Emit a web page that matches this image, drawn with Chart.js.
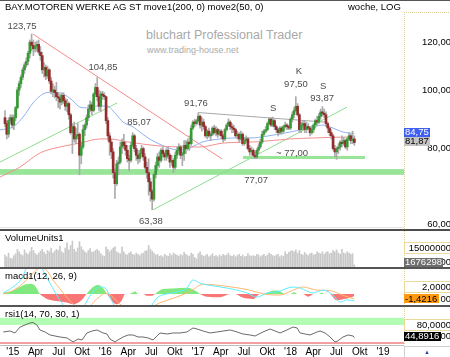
<!DOCTYPE html>
<html>
<head>
<meta charset="utf-8">
<title>BMW weekly</title>
<script src="https://cdn.jsdelivr.net/npm/chart.js@4.4.1/dist/chart.umd.min.js"></script>
<style>
html,body{margin:0;padding:0;background:#fff;}
body{width:450px;height:357px;overflow:hidden;position:relative;font-family:"Liberation Sans",Arial,sans-serif;}
canvas{position:absolute;left:0;}
.t{position:absolute;white-space:nowrap;line-height:11px;color:#000;}
.ln{position:absolute;}
</style>
</head>
<body>
<div class="t" style="left:146px;top:30px;font-size:12.5px;color:#a9a9a9;">bluchart Professional Trader</div>
<div class="t" style="left:147px;top:45px;font-size:9px;color:#ababab;">www.trading-house.net</div>
<canvas id="cMain" width="450" height="229" style="top:0"></canvas>
<canvas id="cVol" width="450" height="36" style="top:231px"></canvas>
<canvas id="cMacd" width="450" height="36" style="top:269px"></canvas>
<canvas id="cRsi" width="450" height="50" style="top:307px"></canvas>
<div class="ln" style="left:0;top:0;width:450px;height:1px;background:#555;"></div>
<div class="ln" style="left:0;top:227px;width:404px;height:1px;background:#e2e2e2;"></div>
<div class="ln" style="left:0;top:229px;width:450px;height:2px;background:#4d4d4d;"></div>
<div class="ln" style="left:0;top:267px;width:450px;height:2px;background:#555;"></div>
<div class="ln" style="left:0;top:305px;width:450px;height:2px;background:#555;"></div>
<div class="ln" style="left:0;top:345px;width:404px;height:1px;background:#bdbdbd;"></div>
<div class="ln" style="left:404px;top:346px;width:45px;height:10px;border-left:1px solid #cfcfcf;border-top:1px solid #cfcfcf;"></div>
<div class="t" style="left:424px;top:347px;font-size:6px;color:#2a4da0;">▲</div>
<div class="t" style="left:5px;top:1px;font-size:9.5px;">BAY.MOTOREN WERKE AG ST move1(200, 0) move2(50, 0)</div>
<div class="t" style="left:348px;top:1px;font-size:9.5px;">woche, LOG</div>
<div class="t" style="left:5px;top:232px;font-size:9.5px;">VolumeUnits1</div>
<div class="t" style="left:5px;top:270px;font-size:9.5px;">macd1(12, 26, 9)</div>
<div class="t" style="left:5px;top:308px;font-size:9.5px;">rsi1(14, 70, 30, 1)</div>
<script>
// ---------- DATA (weekly, week 0 = 1 Dec 2014) ----------
const opens = [
90,88,84.5,89,90,87.5,90,93.5,100,102.5,
105,108,110,111.5,115,120,118.5,117,118,119,
115.5,114,108,109,105.5,108,103.5,99.5,100,99,
97.5,97,95.5,98,96,94,95,91,85,87,
83,84,84.5,78,80.5,86,87.5,90,93,94.5,
92.5,98.5,101,97.5,94,98.5,98,97.5,89,84,
82,79,73,70,75.5,76,80.5,82,81,79.5,
77,76.5,81,84,80,78,77,78.5,80,77.5,
74.5,73,70.5,68,66,72.5,75,77.5,76.5,79.5,
78.5,77.5,79.5,78,76,76.5,74.5,78,79.5,80.5,
78,78.5,81,80,82,81.5,86.5,88.5,88,89,
90.5,87.5,88.5,87,84,85.5,84,84.5,86.5,85,
86,84.5,85.5,84,83,86,87.5,88.5,87,86.5,
86,84,84.5,83,84.5,81.5,82.5,83,80,79,
79.5,78,77.5,79.5,80.5,82,84.5,85.5,86,88,
89.5,87.5,89,87,86,85,86.5,85.5,87,87.5,
87,86.5,89.5,91,92.5,94,91,86,87.5,88,
86,87,86.5,85,86,87.5,89,88.5,90.5,92,
91.5,91,88,86.5,85,84,80,79,80,80.5,
82,81.5,82.5,80.5,83,84,82.5,83];
const highs = [
92.5,89,90,91,91,91,94,101,103.5,106,
109,111,113,116,121,123.75,121,120,120.5,121,
118,115.5,111,110,109.5,108.5,105,102.5,101.5,103,
99,98.5,99,99,97,96.5,95.5,91.5,88,88.5,
86.5,88,85,82,87.5,88,91,94.5,96,95.5,
99,102.5,104.85,100,99.5,99.5,99,97.5,90,85,
83,80,74,76.5,77.5,82,83,84.5,82,81,
78,82,85,84.5,81,79.5,79.5,81,80.5,78.5,
76,77,71.5,68.5,73,76,78.5,79,80,80.5,
79,80,80.5,78.5,78,77,79,80.5,81.5,81,
79,82.5,82.5,83,84,87.5,89,89.5,89.5,91.76,
91,90,89.5,87.5,86,86.5,85,87,87.5,87,
86.5,86,86,84.5,86.5,88,89.6,89,88,87.5,
86.5,85.5,85,85.5,85,83.5,84,83.5,81,80.5,
80,79,80,81.5,83,85.5,86,87,88.5,90,
90,90.2,89.5,87.5,86.5,87,87,87.5,88.5,88,
87.5,90,92,93.5,97.5,95,91.5,88.5,89,89,
88.5,88,87,87,88,89.5,90.5,91.5,93,93.87,
93,92,88.5,87,86,84.5,81,80.5,81.5,82.5,
84,83.5,83,83.5,85,84.5,85.5,84];
const lows = [
87,83,83.5,88,86.5,86,89,93,98,101,
104,106.5,109,110,113,116,114,115.5,116,114.5,
112,106.5,105,104,104.5,102.5,98.5,97.5,97,96,
93.5,93,94.5,95,92.5,92,89.5,84.5,78.5,82,
81.5,83,72.4,75.5,80,84,86.5,89,92,91,
92,97.5,96,92.5,92,96.5,96.5,88,82.5,78,
77,71.5,66.2,69.5,72.5,75.5,78.5,80,78,76,
73.5,76,80.5,79,76.5,75.5,76,77.5,76.5,74,
71.5,67,65.5,63.38,65.5,71.5,73.5,74.5,76,77.5,
76.5,76.5,77,74.5,75,73,74,77,78.5,77,
75,76.5,78.5,79.5,79.5,81,86,87,87.5,88.5,
86.5,85.5,86,83.5,83,83.5,82.5,84,84.5,84,
83.5,84,83,82,82.5,85.5,87,86,85,85,
83.5,83,82,82.5,81,81,82,79.5,78,78,
77.5,77,77,78.5,80,81.5,84,85,85.5,87.5,
87,87,86,85,84,84.5,84.5,85,86.5,86,
86,86,88.5,90,92,90.5,85,85,86.5,85,
85,86,84,84.5,85,86.5,87.5,88,89.5,90.5,
90,87,85,84,83,79.5,77.5,76.8,78.5,79.5,
80.5,81,80,79.5,82.5,81.5,81.5,81];
const closes = [
88,84.5,89,90,87.5,90,93.5,100,102.5,105,
108,110,111.5,115,120,118.5,117,118,119,115.5,
114,108,109,105.5,108,103.5,99.5,100,99,97.5,
97,95.5,98,96,94,95,91,85,87,83,
84,84.5,78,80.5,86,87.5,90,93,94.5,92.5,
98.5,101,97.5,94,98.5,98,97.5,89,84,82,
79,73,70,75.5,76,80.5,82,81,79.5,77,
76.5,81,84,80,78,77,78.5,80,77.5,74.5,
73,70.5,68,66,72.5,75,77.5,76.5,79.5,78.5,
77.5,79.5,78,76,76.5,74.5,78,79.5,80.5,78,
78.5,81,80,82,81.5,86.5,88.5,88,89,90.5,
87.5,88.5,87,84,85.5,84,84.5,86.5,85,86,
84.5,85.5,84,83,86,87.5,88.5,87,86.5,86,
84,84.5,83,84.5,81.5,82.5,83,80,79,79.5,
78,77.5,79.5,80.5,82,84.5,85.5,86,88,89.5,
87.5,89,87,86,85,86.5,85.5,87,87.5,87,
86.5,89.5,91,92.5,94,91,86,87.5,88,86,
87,86.5,85,86,87.5,89,88.5,90.5,92,91.5,
91,88,86.5,85,84,80,79,80,80.5,82,
81.5,82.5,80.5,83,84,82.5,83,81.87];
// weekly volume in millions of shares
const volumes = [
9.5,8,11,7,6.5,9,10.5,14,12,10,
9,13.5,11,10,12,15.5,13,10.5,9.5,11,
12.5,14,11.5,10,13,12,15,11,12.5,14,
13,16.5,12,11,15,19,13.5,17,20.5,14,
12,15,20,16,13.5,12,11,13,14.5,11.5,
12,13,14,12.5,10.5,9,8.5,16,14,12,
13.5,15,16,12,11,10.5,16,12,10,9.5,
11,12,10,9.5,11,10,9,10.5,11,12.5,
13,17,14,12.5,11,9.5,10,8.5,9,8,
10,9,8.5,10.5,9,11,10,9.5,8.5,10,
9,11.5,10,9,8.5,11,10,7.5,6.5,10.5,
12,9.5,8.5,9,10,8,9,10.5,8.5,9,
8,9.5,8.5,10,9,9.5,11,9,8.5,9.5,
8,9,10,8.5,9.5,8,8.5,10.5,9,8.5,
9,8.5,10,9.5,8,9,10,8.5,9.5,11,
10,9,8.5,9.5,10,8,9,8.5,12,10,
11.5,12.5,13,12,13.5,11,13,10,9.5,11.5,
10,9,10.5,11,9.5,10,12,11,10.5,12,
10,11.5,12,10.5,11,13,12,13.5,11,10,
14,11,10.5,12,11,10,10.5,1.676298];

// moving averages (week, price)
const ma50Weeks  = [-2.8,4.5,10.2,15.8,21.4,27.1,32.7,37.8,42.3,46.8,51.9,57.5,62,66.6,72.2,76.1,81.8,87.4,94.8,100,104.3,111.7,121.3,128.6,138.2,147.8,155.1,160.7,166.4,173.7,179.4,185,190.6,197];
const ma50Values = [85.9,86.9,90.2,95.2,98.5,99.2,98.5,96.3,93.7,93.4,94.1,94.1,91.6,88.5,86.9,85.2,82.9,81.3,79.8,79.6,80.3,82.1,83.0,83.3,83.3,83.9,84.6,85.2,85.9,86.9,87.5,86.5,85.2,84.75];
const ma200Weeks  = [-2.8,8.5,19.8,31,42.3,53.6,59.2,68.8,77.8,87.4,98.7,109.9,122.9,142.1,160.7,173.7,192.9,197];
const ma200Values = [71.8,74.6,78.7,80.5,81.7,83.0,83.0,82.1,81.4,80.8,80.5,80.5,81.7,82.1,83.0,83.3,83.6,83.6];

// trend lines (week, price)
const resistWeeks = [15.8,122.4],  resistPrices = [123.75,76.9];
const support1Weeks = [-2.8,63.2], support1Prices = [76.0,95.2];
const support2Weeks = [83.5,192.9], support2Prices = [63.38,93.7];
const topLineWeeks = [109.4,180.5], topLinePrices = [91.76,88.5];
const supportZone = [72.4,74.0];
const zone77 = [76.9,77.8], zone77Weeks = [134.2,203];

// chart annotations
const noteTexts  = ['123,75','104,85','85,07','63,38','91,76','S','K','97,50','S','93,87','~ 77,00','77,07'];
const noteWeeks  = [9.6,55.3,75.6,82.3,107.7,151.2,165.8,164.1,179.4,178.8,161.9,141.6];
const notePrices = [127.6,109.2,88.4,60.7,95.2,93.4,107.5,102.3,101.5,97.0,78.7,71.0];

// MACD (week, value)
const histWeeks  = [-1,0,4.5,10,14,17,19.7,21,23.6,29,34.8,38.5,43.3,45.9,49.8,52.6,55.4,57.6,61,63,66,67.7,70,73.5,75,78,80,83,84.6,89,94.8,102.6,108,110,114,121,127,129.7,134,140,143.8,145.5,150.6,154,158,161,163,165,168,171,174,177,178.5,180,183,187,190.6,195.7,197];
const histValues = [0.4,0.5,0.95,2.4,2.9,2.3,0,-0.6,-1.4,-2.0,-2.4,-2.9,-1.7,0,2.1,2.6,1.6,0,-2.4,-2.9,-1.7,0,0,0.7,0,0,-0.5,-0.5,0,1.4,1.6,1.8,0.7,0,-0.8,-0.95,0,0,-1.0,-1.4,0,0,0.9,1.0,0,0,0.5,0,0,-0.8,0,0,0.4,0,0,-1.8,-1.5,-0.9,-0.6];
const macdWeeks  = [-1,4.5,9.6,13,16,19.7,23.7,29.9,35,39.5,42,45.1,49.6,53.6,56.4,60.9,64.9,68,73.3,81.8,85.7,91,97,102.6,106,110,113.9,125.2,136.5,142.1,147.8,153.4,162.4,166.4,173.7,179.4,185,189,192.9,197];
const macdValues = [0.3,2.0,4.6,8.5,10.0,8.3,4.6,-0.9,-4.6,-6.9,-7.2,-3.1,0.6,2.0,1.7,-2.6,-6.0,-6.5,-5.1,-3.8,-1.1,0.0,0.6,1.7,4.0,3.1,2.6,1.7,0.3,-0.9,0.3,0.6,2.0,1.7,0.3,1.1,-0.3,-2.3,-1.7,-1.9];
const signalWeeks  = [-1,4.5,10,15,20,24,27,31,35,40,45,50,53,57,60,64,70,80,87,95,104,112,118,128,138,146,155,162,168,176,183,190,197];
const signalValues = [0.0,1.0,3.0,5.5,7.5,6.5,4.0,1.5,-1.0,-3.5,-4.8,-2.3,-0.9,0.3,-0.5,-2.5,-4.5,-4.3,-2.6,-1.2,0.6,2.8,2.6,2.0,1.1,0.0,-0.3,1.0,2.0,1.1,1.0,-0.3,-1.4216];

// RSI (week, value)
const rsiWeeks  = [-1,2.8,5.6,8.5,11.3,14.1,15.8,18,19.7,22.6,25.4,28.2,31,35,38.4,41.2,43.4,46.2,49.1,51.9,55.3,57.5,59.2,62,63.7,66.6,69.4,72.2,75,77.8,80.7,83.5,85.7,87.4,91.4,94.8,98.7,102.6,106,108.3,111.7,115.6,119.6,123,127,130.9,134.2,138.2,141,145.5,149.5,152.3,155.1,159,162.4,164.7,166.4,169.2,172,176,177.7,180.5,183.3,186.1,187.6,190.6,193.5,196.3,197];
const rsiValues = [60.6,63.3,57.8,74.4,80,85.6,87,80,66,60.6,52.2,49.4,46.7,43.9,32.8,41.1,38.3,57.8,63.3,66.1,57.8,55,41.1,32.8,38.3,46.7,52.2,52.2,46.7,46.7,43.9,38.3,49.4,57.8,55,57.8,57.8,60.6,71.7,68.9,63.3,57.8,60.6,63.3,66.1,60.6,55,52.2,49.4,60.6,68.9,63.3,57.8,66.1,74.4,71.7,57.8,55,52.2,60.6,63.3,57.8,46.7,32.8,35.6,46.7,52.2,49.4,44.8916];
const rsiZone = [80,100], rsiFloor = 30;

// axis ticks
const tickWeeks  = [4.43,17.29,30.29,43.43,56.57,69.57,82.57,95.71,108.86,121.71,134.71,147.86,161,173.86,186.86,200,213.14];
const tickLabels = ["'15","Apr","Jul","Okt","'16","Apr","Jul","Okt","'17","Apr","Jul","Okt","'18","Apr","Jul","Okt","'19"];
const priceTicks = [60,80,100,120];
const volumeTicks = [15000000];
const macdTicks = [2];
const rsiTicks = [80];

// ---------- CHARTS ----------
const FONT = '"Liberation Sans", Arial, sans-serif';
const X_MIN = -2.82, X_MAX = 225;
const weeks = closes.map((_, i) => i);
const last = closes.length - 1;
const pts = (xs, ys) => xs.map((w, k) => ({ x: w, y: ys[k] }));
const fmtPrice = v => v.toFixed(2).replace('.', ',');
const fmt4 = v => v.toFixed(4).replace('.', ',');
const fmtVol = v => String(Math.round(v));

function xAxis(show) {
  return {
    type: 'linear', min: X_MIN, max: X_MAX, offset: false, display: show,
    grid: { display: false, drawTicks: false }, border: { display: false },
    ticks: { autoSkip: false, maxRotation: 0, minRotation: 0, padding: 1, color: '#000',
      font: { size: 10, family: FONT }, callback: (v, idx) => tickLabels[idx] },
    afterBuildTicks: s => { s.ticks = tickWeeks.map(v => ({ value: v })); },
    afterFit: s => { s.height = show ? 12 : 0; s.paddingLeft = 0; s.paddingRight = 0; }
  };
}
function yAxis(type, min, max, ticks) {
  return {
    type, min, max, position: 'right',
    grid: { display: false, drawTicks: false }, border: { display: false },
    ticks: { display: false },
    afterBuildTicks: s => { s.ticks = ticks.map(v => ({ value: v })); },
    afterFit: s => { s.width = 46; s.paddingTop = 0; s.paddingBottom = 0; }
  };
}
function baseOptions(y, showX, top) {
  return {
    responsive: false, animation: false, devicePixelRatio: 1, events: [],
    layout: { padding: { top: top || 0, left: 0, right: 0, bottom: 0 } },
    plugins: { legend: { display: false }, tooltip: { enabled: false } },
    scales: { x: xAxis(showX), y }
  };
}
function rightDecor(chart, fmt, boxed) {
  const { ctx, chartArea: a } = chart; const y = chart.scales.y;
  ctx.save();
  ctx.strokeStyle = '#dccf96'; ctx.lineWidth = 1; ctx.setLineDash([1, 1]);
  ctx.beginPath(); ctx.moveTo(a.right + 0.5, a.top); ctx.lineTo(a.right + 0.5, a.bottom);
  if (!boxed) { ctx.moveTo(a.right, a.top + 0.5); ctx.lineTo(450, a.top + 0.5); }
  ctx.stroke(); ctx.setLineDash([]);
  ctx.font = '9.5px ' + FONT; ctx.textBaseline = 'middle'; ctx.textAlign = 'right';
  y.ticks.forEach(t => {
    const py = y.getPixelForValue(t.value);
    if (boxed) { ctx.strokeStyle = '#eadb9c'; ctx.strokeRect(a.right + 0.5, Math.round(py) - 5.5, 46, 11); }
    ctx.fillStyle = '#000'; ctx.fillText(fmt(t.value), 451, py);
  });
  ctx.restore();
}
function valueBox(chart, value, bg, fg, text, fragment, dy) {
  const { ctx, chartArea: a } = chart; const y = chart.scales.y;
  let yc = y.getPixelForValue(value) + (dy || 0);
  yc = Math.min(Math.max(yc, a.top + 5), a.bottom - 5);
  ctx.save();
  ctx.font = '9.5px ' + FONT; ctx.textBaseline = 'middle';
  const w = Math.ceil(ctx.measureText(text).width) + 2;
  if (fragment) { ctx.fillStyle = '#000'; ctx.textAlign = 'right'; ctx.fillText(fragment, 451, yc); }
  ctx.fillStyle = bg; ctx.fillRect(a.right, Math.round(yc - 4.5), w, 9);
  ctx.fillStyle = fg; ctx.textAlign = 'left'; ctx.fillText(text, a.right + 1, yc);
  ctx.restore();
}

// main price chart
const mainPlugin = {
  id: 'mainDecor',
  beforeDatasetsDraw(chart) {
    const { ctx, chartArea: a, scales: { x, y } } = chart;
    ctx.save();
    ctx.fillStyle = '#98e498';
    const t = y.getPixelForValue(supportZone[1]), b = y.getPixelForValue(supportZone[0]);
    ctx.fillRect(a.left, t, a.right - a.left, b - t);
    const t2 = y.getPixelForValue(zone77[1]), b2 = y.getPixelForValue(zone77[0]);
    const l2 = x.getPixelForValue(zone77Weeks[0]), r2 = x.getPixelForValue(zone77Weeks[1]);
    ctx.fillRect(l2, t2, r2 - l2, b2 - t2);
    ctx.restore();
  },
  afterDatasetsDraw(chart) {
    const { ctx, scales: { x, y } } = chart;
    ctx.save();
    ctx.font = '9.5px ' + FONT; ctx.fillStyle = '#4d4d4d'; ctx.textAlign = 'center'; ctx.textBaseline = 'middle';
    noteTexts.forEach((t, k) => ctx.fillText(t, x.getPixelForValue(noteWeeks[k]), y.getPixelForValue(notePrices[k])));
    ctx.restore();
  },
  afterDraw(chart) {
    rightDecor(chart, fmtPrice, false);
    const m = ma50Values[ma50Values.length - 1];
    valueBox(chart, m, '#3f5ff2', '#fff', fmtPrice(m), null, -1);
    valueBox(chart, closes[last], '#c4c4c4', '#000', fmtPrice(closes[last]), null, -1);
  }
};
const lineDs = (data, color, order, width, tension) => ({
  type: 'line', data, borderColor: color, borderWidth: width || 1, pointRadius: 0,
  tension: tension || 0, cubicInterpolationMode: tension ? 'monotone' : 'default', fill: false, order
});
new Chart(document.getElementById('cMain'), {
  type: 'bar',
  data: { datasets: [
    lineDs(pts(resistWeeks, resistPrices), '#f58a8a', 9),
    lineDs(pts(support1Weeks, support1Prices), '#8edc8e', 9),
    lineDs(pts(support2Weeks, support2Prices), '#8edc8e', 9),
    lineDs(pts(topLineWeeks, topLinePrices), '#a8a8a8', 9),
    lineDs(pts(ma200Weeks, ma200Values), '#f39090', 8, 1, 0.4),
    lineDs(pts(ma50Weeks, ma50Values), '#8fb2f2', 8, 1, 0.4),
    { type: 'bar', data: weeks.map(i => ({ x: i, y: [lows[i], highs[i]] })), backgroundColor: '#ababab',
      barThickness: 1, grouped: false, order: 5 },
    { type: 'bar', data: weeks.map(i => ({ x: i, y: [opens[i], closes[i]] })),
      backgroundColor: weeks.map(i => closes[i] >= opens[i] ? '#379a37' : '#932d2d'),
      barThickness: 2, grouped: false, order: 4 }
  ] },
  options: baseOptions(yAxis('logarithmic', 58.9, 134.6, priceTicks), false, 12),
  plugins: [mainPlugin]
});

// volume
new Chart(document.getElementById('cVol'), {
  type: 'bar',
  data: { datasets: [{ data: weeks.map(i => ({ x: i, y: volumes[i] * 1e6 })), backgroundColor: '#c9c9c9', barThickness: 1, grouped: false }] },
  options: baseOptions(yAxis('linear', 0, 28.42e6, volumeTicks), false),
  plugins: [{ id: 'volDecor', afterDraw(chart) {
    rightDecor(chart, fmtVol, true);
    const v = volumes[last] * 1e6;
    valueBox(chart, v, '#6e6e6e', '#fff', fmtVol(v), '00');
  } }]
});

// MACD
new Chart(document.getElementById('cMacd'), {
  type: 'line',
  data: { datasets: [
    lineDs(pts(macdWeeks, macdValues), '#5eeeff', 1, 1, 0.3),
    lineDs(pts(signalWeeks, signalValues), '#ffb66e', 2, 1, 0.3),
    { type: 'line', data: pts(histWeeks, histValues), borderWidth: 0, pointRadius: 0, tension: 0.3,
      cubicInterpolationMode: 'monotone', fill: { target: 'origin', above: '#7fe97f', below: '#f87676' }, order: 3 }
  ] },
  options: baseOptions(yAxis('linear', -3.14, 7.14, macdTicks), false),
  plugins: [{ id: 'macdDecor', afterDraw(chart) {
    rightDecor(chart, fmt4, true);
    const s = signalValues[signalValues.length - 1];
    valueBox(chart, s, '#ff9a10', '#000', fmt4(s), '00');
  } }]
});

// RSI
new Chart(document.getElementById('cRsi'), {
  type: 'line',
  data: { datasets: [ lineDs(pts(rsiWeeks, rsiValues), '#6a6a6a', 1, 1, 0) ] },
  options: baseOptions(yAxis('linear', 24.4, 130, rsiTicks), true),
  plugins: [{ id: 'rsiDecor',
    beforeDatasetsDraw(chart) {
      const { ctx, chartArea: a } = chart; const y = chart.scales.y;
      ctx.save();
      const t = y.getPixelForValue(rsiZone[1]), b = y.getPixelForValue(rsiZone[0]);
      ctx.fillStyle = '#b3fcb3'; ctx.fillRect(a.left, t, a.right - a.left, b - t);
      ctx.strokeStyle = '#f08080'; ctx.lineWidth = 1.5;
      const f = y.getPixelForValue(rsiFloor);
      ctx.beginPath(); ctx.moveTo(a.left, f); ctx.lineTo(a.right, f); ctx.stroke();
      ctx.restore();
    },
    afterDraw(chart) {
      rightDecor(chart, fmt4, true);
      const r = rsiValues[rsiValues.length - 1];
      valueBox(chart, r, '#000', '#fff', fmt4(r), '00', -1.5);
    } }]
});
</script>
</body>
</html>
